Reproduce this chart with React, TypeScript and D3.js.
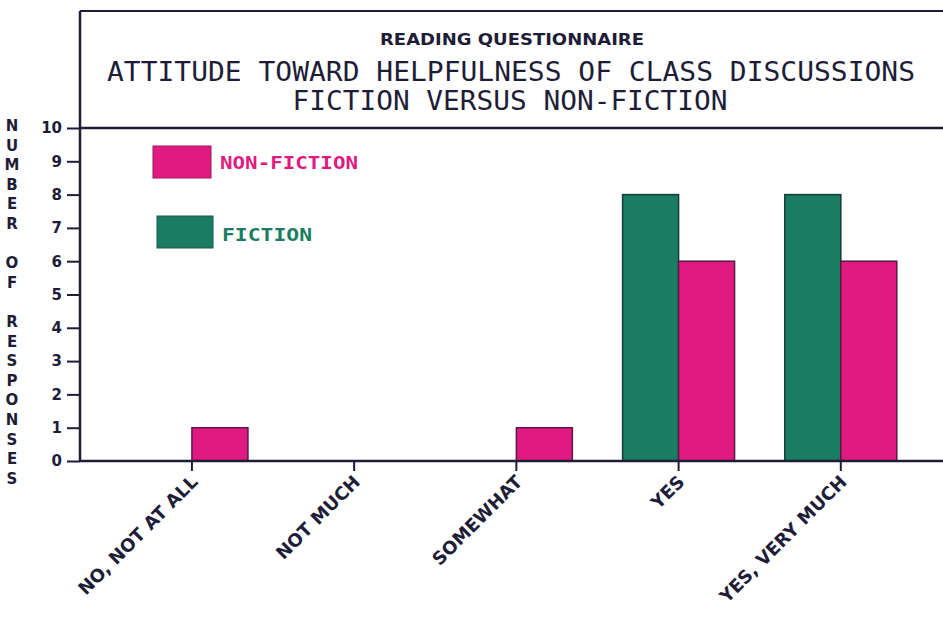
import React, { useRef, useEffect } from 'react';
import * as d3 from 'd3';

const categories = ['NO, NOT AT ALL', 'NOT MUCH', 'SOMEWHAT', 'YES', 'YES, VERY MUCH'];
const fiction = [0, 0, 0, 8, 8];
const nonFiction = [1, 0, 1, 6, 6];
const yTicks = [0, 1, 2, 3, 4, 5, 6, 7, 8, 9, 10];
const titleLines = ['READING QUESTIONNAIRE', 'ATTITUDE TOWARD HELPFULNESS OF CLASS DISCUSSIONS', 'FICTION VERSUS NON-FICTION'];
const yLabel = 'NUMBER OF RESPONSES';

const INK = '#1e1d38';
const GREEN = '#1a7c62';
const PINK = '#e01a7f';

const App = () => {
    const ref = useRef<SVGSVGElement>(null);

    useEffect(() => {
        document.body.style.margin = '0';
        const svg = d3.select(ref.current);
        svg.selectAll('*').remove();

        const W = 943;
        const left = 80, top = 128, bottom = 461, frameTop = 11;

        const y = d3.scaleLinear().domain([0, 10]).range([bottom, top]);
        // category centres sit on the tick; first tick is offset into the axis
        const x = d3.scaleLinear().domain([-0.69, 4.63]).range([left, W]);
        const barW = 56;

        const g = svg.append('g');

        // frame around title
        g.append('line').attr('x1', left).attr('x2', W).attr('y1', frameTop).attr('y2', frameTop)
            .attr('stroke', INK).attr('stroke-width', 2);
        g.append('line').attr('x1', left).attr('x2', W).attr('y1', top).attr('y2', top)
            .attr('stroke', INK).attr('stroke-width', 2.5);

        // titles
        g.append('text').attr('x', 512).attr('y', 45).attr('text-anchor', 'middle')
            .attr('font-family', 'DejaVu Sans').attr('font-weight', 'bold').attr('font-size', 15)
            .attr('textLength', 264).attr('lengthAdjust', 'spacingAndGlyphs')
            .attr('fill', INK).text(titleLines[0]);
        g.append('text').attr('x', 511).attr('y', 81).attr('text-anchor', 'middle')
            .attr('font-family', 'DejaVu Sans Mono').attr('font-size', 27)
            .attr('textLength', 808).attr('lengthAdjust', 'spacingAndGlyphs')
            .attr('fill', INK).text(titleLines[1]);
        g.append('text').attr('x', 510).attr('y', 110).attr('text-anchor', 'middle')
            .attr('font-family', 'DejaVu Sans Mono').attr('font-size', 27)
            .attr('textLength', 435).attr('lengthAdjust', 'spacingAndGlyphs')
            .attr('fill', INK).text(titleLines[2]);

        // bars
        const bars = g.append('g');
        bars.selectAll('rect.fic').data(fiction).enter().append('rect')
            .attr('x', (d, i) => x(i) - barW)
            .attr('y', d => y(d))
            .attr('width', barW)
            .attr('height', d => y(0) - y(d))
            .attr('fill', GREEN).attr('stroke', '#123c36').attr('stroke-width', 1.5);
        bars.selectAll('rect.non').data(nonFiction).enter().append('rect')
            .attr('x', (d, i) => x(i))
            .attr('y', d => y(d))
            .attr('width', barW)
            .attr('height', d => y(0) - y(d))
            .attr('fill', PINK).attr('stroke', '#5a1848').attr('stroke-width', 1.5);

        // y axis
        const yAxis = g.append('g').attr('transform', `translate(${left},0)`)
            .call(d3.axisLeft(y).tickValues(yTicks).tickSize(13).tickPadding(5).tickFormat(d3.format('d')));
        yAxis.select('.domain').remove();
        yAxis.selectAll('.tick line').attr('stroke', INK).attr('stroke-width', 2);
        yAxis.selectAll('text').attr('fill', INK).attr('font-family', 'DejaVu Sans')
            .attr('font-weight', 'bold').attr('font-size', 15);
        g.append('line').attr('x1', left).attr('x2', left).attr('y1', frameTop).attr('y2', bottom)
            .attr('stroke', INK).attr('stroke-width', 2.5);

        // x axis
        g.append('line').attr('x1', left).attr('x2', W).attr('y1', bottom).attr('y2', bottom)
            .attr('stroke', INK).attr('stroke-width', 2.5);
        const xt = g.append('g');
        categories.forEach((c, i) => {
            xt.append('line').attr('x1', x(i)).attr('x2', x(i)).attr('y1', bottom).attr('y2', bottom + 10)
                .attr('stroke', INK).attr('stroke-width', 2);
            xt.append('text')
                .attr('transform', `translate(${x(i) + 7},${bottom + 22}) rotate(-45)`)
                .attr('text-anchor', 'end')
                .attr('font-family', 'DejaVu Sans').attr('font-weight', 'bold').attr('font-size', 18)
                .attr('fill', INK).text(c);
        });

        // vertical y label
        const yl = g.append('text').attr('font-family', 'DejaVu Sans').attr('font-weight', 'bold')
            .attr('font-size', 15).attr('fill', INK).attr('text-anchor', 'middle');
        yLabel.split('').forEach((ch, i) => {
            yl.append('tspan').attr('x', 12).attr('y', 131 + i * 19.6).text(ch === ' ' ? '\u00a0' : ch);
        });

        // legend
        const legend = g.append('g');
        legend.append('rect').attr('x', 153).attr('y', 146).attr('width', 58).attr('height', 32)
            .attr('fill', PINK).attr('stroke', '#a01560').attr('stroke-width', 1);
        legend.append('text').attr('x', 220).attr('y', 169).attr('font-family', 'DejaVu Sans Mono')
            .attr('font-weight', 'bold').attr('font-size', 17).attr('textLength', 138).attr('lengthAdjust', 'spacingAndGlyphs')
            .attr('fill', PINK).text('NON-FICTION');
        legend.append('rect').attr('x', 157).attr('y', 216).attr('width', 56).attr('height', 32)
            .attr('fill', GREEN).attr('stroke', '#145c4a').attr('stroke-width', 1);
        legend.append('text').attr('x', 222).attr('y', 241).attr('font-family', 'DejaVu Sans Mono')
            .attr('font-weight', 'bold').attr('font-size', 17).attr('textLength', 90).attr('lengthAdjust', 'spacingAndGlyphs')
            .attr('fill', GREEN).text('FICTION');
    }, []);

    return (
        <svg ref={ref} width={943} height={617} style={{ display: 'block', background: '#fff' }}></svg>
    );
};

export default App;
